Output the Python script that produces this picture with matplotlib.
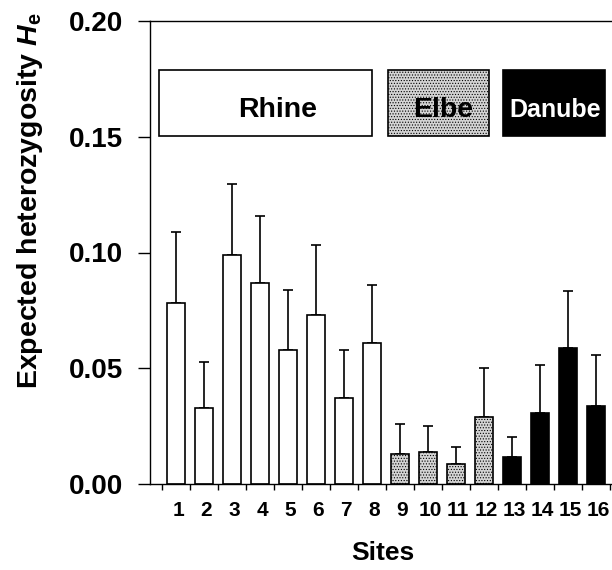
import matplotlib
matplotlib.use("Agg")
import matplotlib.pyplot as plt
from matplotlib.patches import Rectangle
import numpy as np

plt.rcParams['font.family'] = ['Liberation Sans', 'DejaVu Sans']
plt.rcParams['font.weight'] = 'bold'
plt.rcParams['mathtext.fontset'] = 'custom'
plt.rcParams['mathtext.rm'] = 'Liberation Sans:bold'
plt.rcParams['mathtext.it'] = 'Liberation Sans:bold:italic'
plt.rcParams['mathtext.bf'] = 'Liberation Sans:bold'
plt.rcParams['hatch.linewidth'] = 0.5

# data
sites = [str(i) for i in range(1, 17)]
he = [0.078, 0.033, 0.099, 0.087, 0.058, 0.073, 0.037, 0.061,
      0.013, 0.014, 0.0085, 0.029,
      0.0115, 0.0305, 0.0586, 0.0337]
he_upper = [0.109, 0.0526, 0.1296, 0.1159, 0.0839, 0.1031, 0.0579, 0.086,
            0.0261, 0.0252, 0.0161, 0.0502,
            0.0204, 0.0515, 0.0834, 0.0557]
river = ['Rhine'] * 8 + ['Elbe'] * 4 + ['Danube'] * 4
yticks = [0.00, 0.05, 0.10, 0.15, 0.20]

styles = {
    'Rhine': dict(facecolor='white', hatch=None, text='black', size=20.5),
    'Elbe': dict(facecolor='#d4d4d4', hatch='......', text='black', size=20.5),
    'Danube': dict(facecolor='black', hatch=None, text='white', size=18),
}

fig = plt.figure(figsize=(6.12, 5.7), dpi=100)
ax = fig.add_axes([150 / 612, 86 / 570, 462 / 612, 463 / 570])

x = np.arange(1, 17)
err = np.array(he_upper) - np.array(he)
ax.errorbar(x, he, yerr=[np.zeros(16), err], fmt='none', ecolor='black',
            elinewidth=1.2, capsize=3.7, capthick=1.2, zorder=1)
for xi, h, r in zip(x, he, river):
    s = styles[r]
    ax.bar(xi, h, width=0.66, facecolor=s['facecolor'], edgecolor='black',
           hatch=s['hatch'], linewidth=1.2, zorder=2)

# legend boxes
boxes = [('Rhine', 0.39, 8.0, 4.64), ('Elbe', 8.57, 12.18, 10.54),
         ('Danube', 12.68, 16.32, 14.54)]
for name, x0, x1, tx in boxes:
    s = styles[name]
    ax.add_patch(Rectangle((x0, 0.1505), x1 - x0, 0.0285, facecolor=s['facecolor'],
                           edgecolor='black', hatch=s['hatch'], linewidth=1.2))
    ax.text(tx, 0.1585, name, ha='center', va='baseline', fontsize=s['size'],
            fontweight='bold', color=s['text'])

ax.set_xlim(0.07, 16.57)
ax.set_ylim(0, 0.2)
ax.set_yticks(yticks)
ax.set_yticklabels(['%.2f' % v for v in yticks], fontsize=20, fontweight='bold')
ax.set_xticks(x + 0.08)
ax.set_xticklabels(sites, fontsize=15, fontweight='bold')
ax.set_xticks(np.arange(0.5, 17, 1), minor=True)
ax.tick_params(axis='x', which='major', length=0, pad=12)
ax.tick_params(axis='x', which='minor', length=4.5, width=1.0, direction='out')
ax.tick_params(axis='y', length=8.6, width=1.0, direction='out', pad=11)
ax.spines['right'].set_visible(False)
for sp in ['left', 'top', 'bottom']:
    ax.spines[sp].set_linewidth(1.0)

ax.set_ylabel(r'Expected heterozygosity $\mathit{H}_{\rm e}$', fontsize=20.5,
              fontweight='bold')
ax.yaxis.set_label_coords(-0.228, 0.613)
ax.set_xlabel('Sites', fontsize=19, fontweight='bold')
ax.xaxis.set_label_coords(0.504, -0.123)

fig.savefig('out.png', dpi=100)
